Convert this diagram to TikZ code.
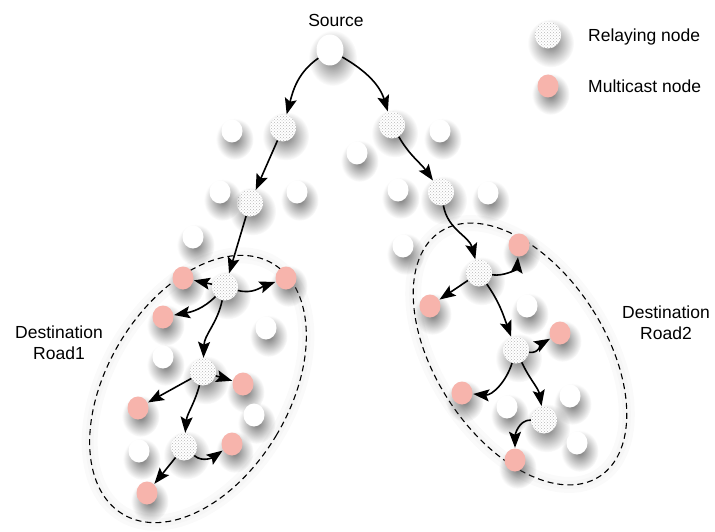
\documentclass[tikz,border=0pt]{standalone}
\usepackage{fontspec}
\setmainfont{Liberation Sans}
\usetikzlibrary{shapes.geometric,shadows,patterns,arrows.meta,fadings}
\definecolor{pinkn}{RGB}{247,180,172}
\tikzfading[name=softcirc, inner color=transparent!0, outer color=transparent!100]
\begin{document}
\begin{tikzpicture}[x=1pt,y=1pt,
 base/.style={ellipse, inner sep=0pt, minimum width=21pt, minimum height=23pt, draw=none},
 shad/.style={general shadow={fill=black!75, opacity=0.7, shadow scale=1.8, shadow xshift=1.5pt, shadow yshift=-4.5pt, path fading=softcirc}},
 plain/.style={base, shad, fill=white},
 relay/.style={base, shad, minimum width=26pt, minimum height=27pt, fill=white, postaction={pattern=crosshatch dots, pattern color=black!28}},
 mcast/.style={base, shad, fill=pinkn},
 src/.style={base, shad, minimum width=27pt, minimum height=31pt, fill=white},
 arr/.style={-{Stealth[length=16pt,width=12pt,inset=3pt]}, line width=1.6pt, shorten >=0.5pt},
 lbl/.style={font=\fontsize{17.5}{21}\selectfont, inner sep=0pt},
 road/.style={line width=1.1pt, dash pattern=on 6pt off 4pt},
 halo/.style={line width=16pt, black!2},
 halo2/.style={line width=8pt, black!3.5}
]
\useasboundingbox (0,0) rectangle (715,-532);

% destination regions
\draw[halo, rotate around={-31:(198,-389)}] (198,-389) ellipse [x radius=91, y radius=146];
\draw[halo2, rotate around={-31:(198,-389)}] (198,-389) ellipse [x radius=91, y radius=146];
\draw[road, rotate around={-31:(198,-389)}] (198,-389) ellipse [x radius=91, y radius=146];
\draw[halo, rotate around={33:(520,-354)}] (520,-354) ellipse [x radius=85, y radius=146];
\draw[halo2, rotate around={33:(520,-354)}] (520,-354) ellipse [x radius=85, y radius=146];
\draw[road, rotate around={33:(520,-354)}] (520,-354) ellipse [x radius=85, y radius=146];

% labels
\node[lbl] (srclbl) at (336,-20) {Source};
\node[lbl, align=center] (road1) at (59,-343) {Destination\\Road1};
\node[lbl, align=center] (road2) at (666,-323) {Destination\\Road2};

% legend
\node[relay] (legr) at (548,-35) {};
\node[lbl, anchor=west] (legrt) at (588,-37) {Relaying node};
\node[mcast] (legm) at (548,-86) {};
\node[lbl, anchor=west] (legmt) at (588,-86) {Multicast node};

% source
\node[src] (src) at (330,-50) {};

% upper relays and plain nodes
\node[relay] (r1) at (283,-128) {};
\node[relay] (r2) at (392,-125) {};
\node[relay] (r3) at (250,-203) {};
\node[relay] (r4) at (441,-192) {};
\node[plain] (w1) at (232,-131) {};
\node[plain] (w2) at (440,-131) {};
\node[plain] (w3) at (357,-153) {};
\node[plain] (w4) at (220,-192) {};
\node[plain] (w5) at (297,-192) {};
\node[plain] (w6) at (398,-190) {};
\node[plain] (w7) at (488,-193) {};
\node[plain] (w8) at (193,-237) {};
\node[plain] (w9) at (403,-246) {};

% left region
\node[relay] (a) at (225,-287) {};
\node[relay] (b) at (203,-372) {};
\node[relay] (c) at (184,-447) {};
\node[mcast] (p1) at (183,-278) {};
\node[mcast] (p2) at (286,-278) {};
\node[mcast] (p3) at (163,-317) {};
\node[mcast] (p4) at (243,-384) {};
\node[mcast] (p5) at (138,-408) {};
\node[mcast] (p6) at (232,-444) {};
\node[mcast] (p7) at (147,-493) {};
\node[plain] (w10) at (266,-328) {};
\node[plain] (w11) at (163,-357) {};
\node[plain] (w12) at (254,-415) {};
\node[plain] (w13) at (139,-451) {};

% right region
\node[relay] (d) at (479,-273) {};
\node[relay] (e) at (516,-350) {};
\node[relay] (f) at (544,-420) {};
\node[mcast] (p8) at (519,-245) {};
\node[mcast] (p9) at (430,-306) {};
\node[mcast] (p10) at (560,-333) {};
\node[mcast] (p11) at (462,-393) {};
\node[mcast] (p12) at (515,-460) {};
\node[plain] (w14) at (527,-306) {};
\node[plain] (w15) at (507,-407) {};
\node[plain] (w16) at (570,-396) {};
\node[plain] (w17) at (577,-443) {};

% connectors
\draw[arr] (src) to[out=215, in=75] (r1);
\draw[arr] (src) to[out=-30, in=107] (r2);
\draw[arr] (r1) -- (r3);
\draw[arr] (r3) -- (a);
\draw[arr] (r2) to[out=-60, in=125] (r4);
\draw[arr] (r4) to[out=-80, in=105] (d);

\draw[arr] (a) -- (p1);
\draw[arr] (a) to[out=-15, in=200] (p2);
\draw[arr] (a) to[out=225, in=10] (p3);
\draw[arr] (a) to[out=258, in=88] (b);
\draw[arr] (b) -- (p4);
\draw[arr] (b) -- (p5);
\draw[arr] (b) to[out=255, in=85] (c);
\draw[arr] (c) -- (p7);
\draw[arr] (c) to[out=-40, in=215] (p6);

\draw[arr] (d) to[out=-8, in=265] (p8);
\draw[arr] (d) -- (p9);
\draw[arr] (d) to[out=-55, in=110] (e);
\draw[arr] (e) to[out=-10, in=210] (p10);
\draw[arr] (e) to[out=253, in=-5] (p11);
\draw[arr] (e) to[out=-65, in=100] (f);
\draw[arr] (f) to[out=180, in=90] (p12);
\end{tikzpicture}
\end{document}
